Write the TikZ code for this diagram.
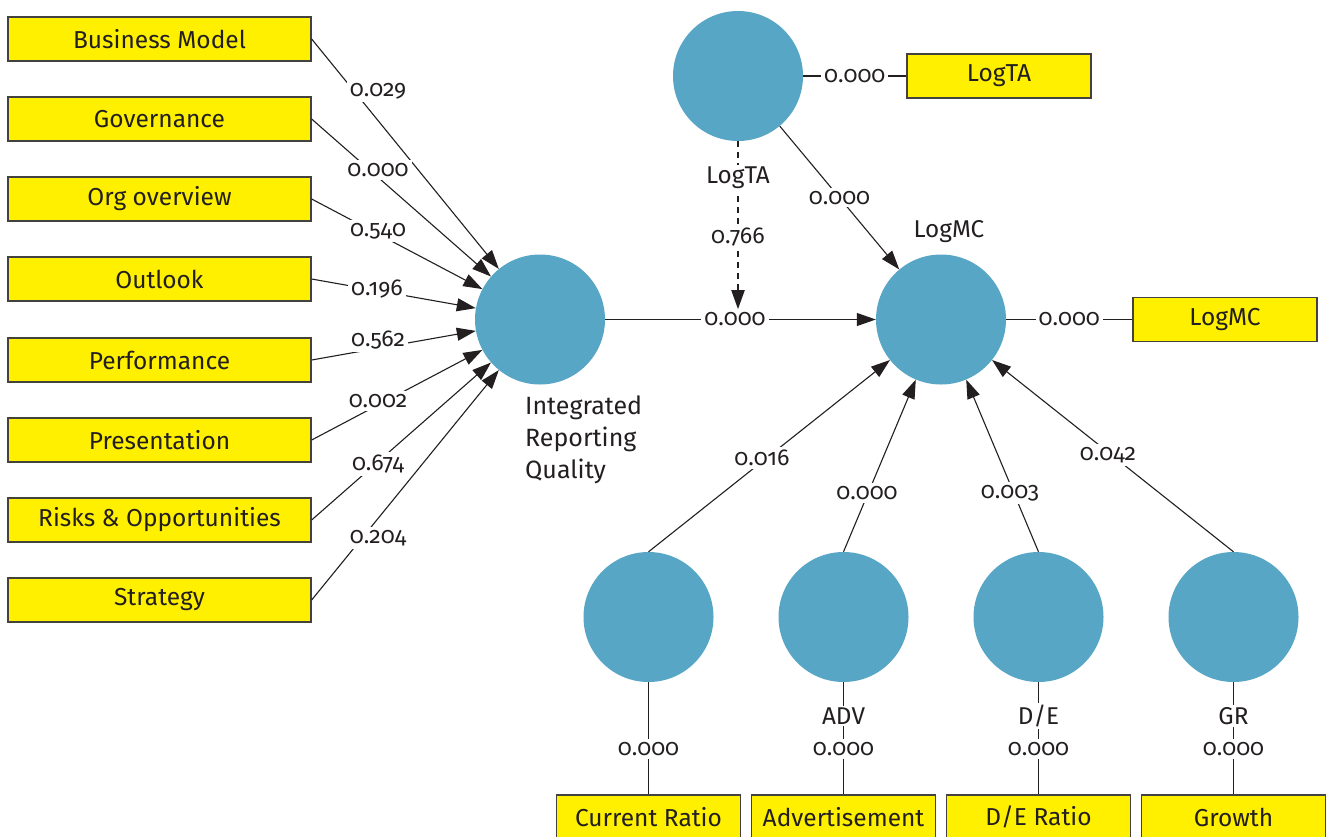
\documentclass[tikz,border=0pt]{standalone}
\usepackage{fontspec}
\setmainfont{Fira Sans}[Numbers=OldStyle]
\usetikzlibrary{arrows.meta}
\definecolor{lvblue}{RGB}{88,166,198}
\definecolor{mvyellow}{RGB}{255,240,0}
\definecolor{ink}{RGB}{35,31,32}
\begin{document}
\begin{tikzpicture}[x=1pt,y=-1pt,
 lv/.style={circle, fill=lvblue, minimum size=130pt, inner sep=0pt},
 mv/.style={draw=ink!85, line width=1.3pt, fill=mvyellow, minimum width=303pt, minimum height=44pt, inner sep=0pt, font=\fontsize{24.5}{28}\selectfont, text=ink},
 mvs/.style={mv, minimum width=184pt},
 lbl/.style={fill=white, inner sep=3pt, font=\fontsize{23}{26}\selectfont, text=ink},
 lvname/.style={fill=white, inner sep=2pt, font=\fontsize{24.3}{28}\selectfont, text=ink},
 conn/.style={draw=ink, line width=1.1pt},
 arr/.style={conn, -{Triangle[length=19pt,width=13pt]}},
 darr/.style={conn, line width=2pt, dash pattern=on 6pt off 5pt, -{Triangle[length=19pt,width=13pt]}},
]
\clip (0,0) rectangle (1328,836);
\fill[white] (0,0) rectangle (1328,836);
% indicator boxes (left)
\node[mv] (bm) at (159.5,39) {Business Model};
\node[mv] (gov) at (159.5,119) {Governance};
\node[mv] (org) at (159.5,199) {Org overview};
\node[mv] (out) at (159.5,279) {Outlook};
\node[mv] (perf) at (159.5,360) {Performance};
\node[mv] (pres) at (159.5,440) {Presentation};
\node[mv] (risk) at (159.5,520) {Risks \& Opportunities};
\node[mv] (strat) at (159.5,600) {Strategy};
% latent variables
\node[lv] (irq) at (540,319.5) {};
\node[lv] (ta) at (738,76) {};
\node[lv] (mc) at (941,319.5) {};
\node[lv] (cr) at (648.5,617) {};
\node[lv] (adv) at (843.5,617) {};
\node[lv] (de) at (1038.5,617) {};
\node[lv] (gr) at (1233.5,617) {};
% other indicator boxes
\node[mvs] (tabox) at (999,76) {LogTA};
\node[mvs] (mcbox) at (1225,319.5) {LogMC};
\node[mvs] (crbox) at (648.5,817) {Current Ratio};
\node[mvs] (advbox) at (843.5,817) {Advertisement};
\node[mvs] (debox) at (1038.5,817) {D/E Ratio};
\node[mvs] (grbox) at (1233.5,817) {Growth};
% formative arrows into IRQ
\draw[arr] (bm.east) -- (irq) node[lbl] (l1) at (378,91) {0.029};
\draw[arr] (gov.east) -- (irq) node[lbl] (l2) at (378,170) {0.000};
\draw[arr] (org.east) -- (irq) node[lbl] (l3) at (378,231) {0.540};
\draw[arr] (out.east) -- (irq) node[lbl] (l4) at (377,289) {0.196};
\draw[arr] (perf.east) -- (irq) node[lbl] (l5) at (378,340) {0.562};
\draw[arr] (pres.east) -- (irq) node[lbl] (l6) at (378,401) {0.002};
\draw[arr] (risk.east) -- (irq) node[lbl] (l7) at (378,464) {0.674};
\draw[arr] (strat.east) -- (irq) node[lbl] (l8) at (378,538) {0.204};
% structural paths
\draw[arr] (irq) -- (mc) node[lbl] (mlab) at (735,319.5) {0.000};
\draw[arr] (ta) -- (mc) node[lbl, midway] (ltamc) {0.000};
\draw[darr] (ta.south) -- (ta.south |- mlab.north);
\draw[conn] (ta) -- (tabox) node[lbl, midway] (ltabox) {0.000};
\draw[conn] (mc) -- (mcbox) node[lbl, midway] (lmcbox) {0.000};
\draw[arr] (cr.north) -- (mc) node[lbl] (lcr) at (762,458) {0.016};
\draw[arr] (adv.north) -- (mc) node[lbl] (ladv) at (867,493) {0.000};
\draw[arr] (de.north) -- (mc) node[lbl] (lde) at (1010,493) {0.003};
\draw[arr] (gr.north) -- (mc) node[lbl] (lgr) at (1108,455) {0.042};
% reflective lines to bottom boxes
\draw[conn] (cr.south) -- (crbox.north) node[lbl] (lcrb) at (648.5,749) {0.000};
\draw[conn] (adv.south) -- (advbox.north) node[lbl] (ladvb) at (843.5,749) {0.000};
\draw[conn] (de.south) -- (debox.north) node[lbl] (ldeb) at (1038.5,749) {0.000};
\draw[conn] (gr.south) -- (grbox.north) node[lbl] (lgrb) at (1233.5,749) {0.000};
% latent variable names
\node[lvname] (nta) at (738,178) {LogTA};
\node[lbl] (l766) at (738,237) {0.766};
\node[lvname, fill=none] (nmc) at (949,232) {LogMC};
\node[lvname] (nadv) at (843.5,716) {ADV};
\node[lvname] (nde) at (1038.5,716) {D/E};
\node[lvname] (ngr) at (1233.5,716) {GR};
\node[anchor=north west, align=left, inner sep=0pt, text=ink, font=\fontsize{25}{31.7}\selectfont] (nirq) at (525,396) {Integrated\\Reporting\\Quality};
\end{tikzpicture}
\end{document}
